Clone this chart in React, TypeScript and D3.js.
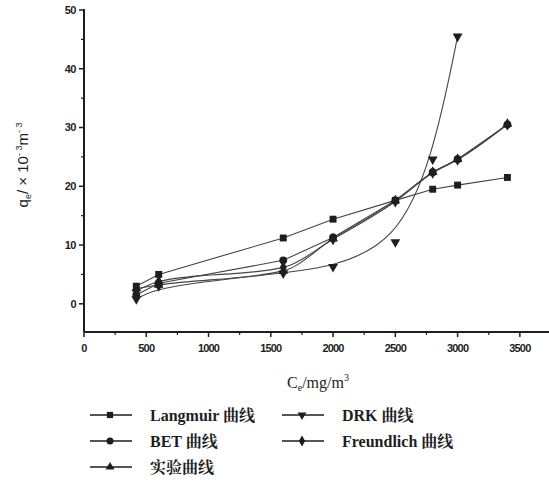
import React from 'react';
import * as d3 from 'd3';

// concentration points (mg/m^3)
const langmuirX = [420, 600, 1600, 2000, 2500, 2800, 3000, 3400];
const langmuirY = [3.0, 5.0, 11.2, 14.4, 17.6, 19.5, 20.2, 21.5];

const betX = [420, 600, 1600, 2000, 2500, 2800, 3000, 3400];
const betY = [1.5, 3.5, 7.4, 11.3, 17.6, 22.4, 24.6, 30.5];

const freundX = [420, 600, 1600, 2000, 2500, 2800, 3000, 3400];
const freundY = [2.2, 3.8, 6.2, 11.0, 17.4, 22.3, 24.5, 30.5];

const exptX = [420, 600, 1600, 2000, 2500, 2800, 3000, 3400];
const exptY = [2.6, 3.2, 5.6, 11.1, 17.6, 22.4, 24.6, 30.6];

const drkX = [420, 600, 1600, 2000, 2500, 2800, 3000];
const drkY = [0.8, 3.0, 5.2, 6.3, 10.5, 24.6, 45.5];

const xTicks = [0, 500, 1000, 1500, 2000, 2500, 3000, 3500];
const yTicks = [0, 10, 20, 30, 40, 50];

const legendItems = [
  { label: 'Langmuir 曲线', shape: 'square' },
  { label: 'DRK 曲线', shape: 'down' },
  { label: 'BET 曲线', shape: 'circle' },
  { label: 'Freundlich 曲线', shape: 'diamond' },
  { label: '实验曲线', shape: 'up' },
];

const ink = '#1e1e1e';
const sans = '"Liberation Sans", Arial, sans-serif';
const serif = '"Liberation Serif", "Noto Serif CJK SC", "Noto Sans CJK SC", serif';

const symbolFor = (shape: string) => {
  switch (shape) {
    case 'square': return d3.symbol(d3.symbolSquare, 48)();
    case 'circle': return d3.symbol(d3.symbolCircle, 48)();
    case 'diamond': return d3.symbol(d3.symbolDiamond, 42)();
    case 'up': return d3.symbol(d3.symbolTriangle, 42)();
    case 'down': return d3.symbol(d3.symbolTriangle, 42)();
    default: return '';
  }
};

const Marker: React.FC<{ x: number; y: number; shape: string; scale?: number }> = ({ x, y, shape, scale = 1 }) => (
  <path
    d={symbolFor(shape) || ''}
    transform={`translate(${x},${y}) scale(${scale})${shape === 'down' ? ' rotate(180)' : ''}`}
    fill={ink}
  />
);

export default function App() {
  const left = 84;
  const bottom = 332;
  const x = d3.scaleLinear().domain([0, 3750]).range([left, 551]);
  const y = d3.scaleLinear().domain([-4.8, 50]).range([bottom, 10]);

  const straight = d3.line<[number, number]>().x(d => x(d[0])).y(d => y(d[1]));
  const spline = d3.line<[number, number]>().x(d => x(d[0])).y(d => y(d[1])).curve(d3.curveBasis);
  const smooth = d3.line<[number, number]>().x(d => x(d[0])).y(d => y(d[1])).curve(d3.curveMonotoneX);

  const zip = (xs: number[], ys: number[]) => xs.map((v, i) => [v, ys[i]] as [number, number]);

  const series = [
    { pts: zip(langmuirX, langmuirY), shape: 'square', gen: straight },
    { pts: zip(betX, betY), shape: 'circle', gen: straight },
    { pts: zip(freundX, freundY), shape: 'diamond', gen: smooth },
    { pts: zip(exptX, exptY), shape: 'up', gen: smooth },
    { pts: zip(drkX, drkY), shape: 'down', gen: spline },
  ];

  const minorX = d3.range(250, 3750, 500);
  const minorY = [5, 15, 25, 35, 45];

  return (
    <svg width={549} height={483} style={{ position: 'absolute', left: 0, top: 0, background: '#fff' }}>
      {/* series lines */}
      {series.map((s, i) => (
        <path key={i} d={s.gen(s.pts) || ''} fill="none" stroke="#444" strokeWidth={1.1} />
      ))}
      {series.map((s, i) =>
        s.pts.map((p, j) => <Marker key={`${i}-${j}`} x={x(p[0])} y={y(p[1])} shape={s.shape} />)
      )}

      {/* axes */}
      <line x1={left} x2={left} y1={9} y2={bottom} stroke={ink} strokeWidth={2} />
      <line x1={left} x2={549} y1={bottom} y2={bottom} stroke={ink} strokeWidth={2} />
      {yTicks.map(t => (
        <g key={t}>
          <line x1={left - 5} x2={left} y1={y(t)} y2={y(t)} stroke={ink} strokeWidth={1.5} />
          <text x={left - 8} y={y(t)} dy="0.35em" textAnchor="end" fontSize={11}
            fontFamily={sans} fontWeight="bold" fill={ink} letterSpacing={-0.5}>{t}</text>
        </g>
      ))}
      {minorY.map(t => (
        <line key={t} x1={left - 3} x2={left} y1={y(t)} y2={y(t)} stroke={ink} strokeWidth={1.2} />
      ))}
      {xTicks.map(t => (
        <g key={t}>
          <line x1={x(t)} x2={x(t)} y1={bottom} y2={bottom + 5} stroke={ink} strokeWidth={1.5} />
          <text x={x(t)} y={bottom + 20} textAnchor="middle" fontSize={11}
            fontFamily={sans} fontWeight="bold" fill={ink}
            letterSpacing={-0.8}>{t}</text>
        </g>
      ))}
      {minorX.map(t => (
        <line key={t} x1={x(t)} x2={x(t)} y1={bottom} y2={bottom + 3} stroke={ink} strokeWidth={1.2} />
      ))}

      {/* axis titles */}
      <text transform="translate(28,165) rotate(-90)" textAnchor="middle" fontSize={15}
        fontFamily={sans} fill={ink}>
        q<tspan fontSize={9} dy={3}>e</tspan><tspan dy={-3}>/ × 10</tspan>
        <tspan fontSize={9} dy={-6}>- 3</tspan><tspan dy={6}>m</tspan>
        <tspan fontSize={9} dy={-6}>- 3</tspan>
      </text>
      <text x={318} y={388} textAnchor="middle" fontSize={16}
        fontFamily={serif} fill={ink}>
        C<tspan fontSize={10} dy={3}>e</tspan><tspan dy={-3}>/mg/m</tspan>
        <tspan fontSize={10} dy={-7}>3</tspan>
      </text>

      {/* legend */}
      {legendItems.map((it, i) => {
        const col = i < 4 ? i % 2 : 0;
        const row = i < 4 ? Math.floor(i / 2) : 2;
        const lx = col === 0 ? 90 : 282;
        const ly = 415 + row * 26;
        return (
          <g key={it.label}>
            <line x1={lx} x2={lx + 42} y1={ly} y2={ly} stroke={ink} strokeWidth={1.4} />
            <Marker x={lx + 20} y={ly} shape={it.shape} scale={0.9} />
            <text x={lx + 60} y={ly} dy="0.35em" fontSize={16} fontWeight="bold"
              fontFamily={serif} fill={ink}>{it.label}</text>
          </g>
        );
      })}
    </svg>
  );
}
